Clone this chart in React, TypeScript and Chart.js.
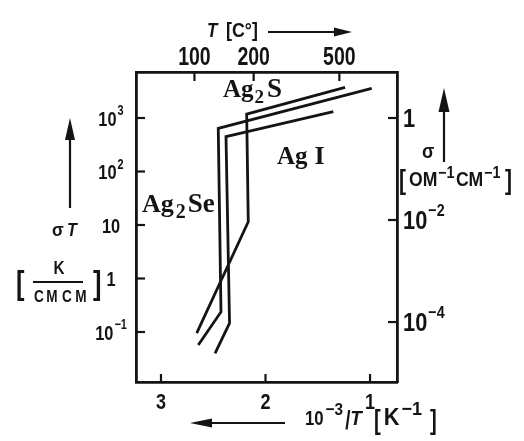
import React, { useEffect, useRef } from "react";
import { Chart, registerables } from "chart.js";

Chart.register(...registerables);

// Tick values on each axis
const TOP_TEMPS_C = [100, 200, 500];
const BOTTOM_TICKS = [3, 2, 1];
const SIGMA_T_TICKS = [0.1, 1, 10, 100, 1000];
const SIGMA_T_LABELS = ["10⁻¹", "1", "10", "10²", "10³"];
const SIGMA_TICKS = [1e-4, 1e-2, 1];
const SIGMA_LABELS = ["10⁻⁴", "10⁻²", "1"];

// Conductivity curves: x = 10^3/T [1/K], y = σT [K/(Ohm·cm·cm)]
const AG2S_INV_T = [1.239, 2.18, 2.165, 2.658];
const AG2S_SIGMA_T = [3750, 1180, 11.5, 0.095];
const AG2SE_INV_T = [0.984, 2.452, 2.426, 2.643];
const AG2SE_SIGMA_T = [3590, 641, 0.237, 0.057];
const AGI_INV_T = [1.351, 2.378, 2.344, 2.483];
const AGI_SIGMA_T = [1312, 447, 0.146, 0.04];

const INK = "#141414";
const SANS = '"Liberation Sans", Arial, sans-serif';
const SERIF = '"Liberation Serif", "Times New Roman", serif';

const toPoints = (xs: number[], ys: number[]) => xs.map((x, i) => ({ x, y: ys[i] }));

const sansFont = (size: number, italic = false) => `${italic ? "italic " : ""}bold ${size}px ${SANS}`;

// Draw text squeezed horizontally by sx (condensed drafting lettering)
function drawText(
  ctx: CanvasRenderingContext2D,
  text: string,
  x: number,
  y: number,
  font: string,
  sx = 1,
  align: "left" | "center" | "right" = "left",
) {
  ctx.save();
  ctx.font = font;
  const w = ctx.measureText(text).width * sx;
  const left = align === "center" ? x - w / 2 : align === "right" ? x - w : x;
  ctx.translate(left, y);
  ctx.scale(sx, 1);
  ctx.textAlign = "left";
  ctx.textBaseline = "alphabetic";
  ctx.fillText(text, 0, 0);
  ctx.restore();
  return w;
}

const SUP: Record<string, string> = { "⁻": "−", "¹": "1", "²": "2", "³": "3", "⁴": "4" };

// Power-of-ten tick label: base "10" with a raised exponent
function drawPower(
  ctx: CanvasRenderingContext2D,
  label: string,
  x: number,
  yMid: number,
  size: number,
  sx: number,
  align: "left" | "center",
) {
  const m = label.match(/^(10)([⁻¹²³⁴]+)$/);
  const base = m ? m[1] : label;
  const exp = m ? [...m[2]].map((c) => SUP[c]).join("") : "";
  const expSize = Math.round(size * 0.66);
  ctx.save();
  ctx.font = sansFont(size);
  const wb = ctx.measureText(base).width * sx;
  ctx.font = sansFont(expSize);
  const we = exp ? ctx.measureText(exp).width * sx + 1 : 0;
  ctx.restore();
  const left = align === "center" ? x - (wb + we) / 2 : x;
  const baseline = yMid + size * 0.36;
  drawText(ctx, base, left, baseline, sansFont(size), sx);
  if (exp) drawText(ctx, exp, left + wb + 1, baseline - size * 0.5, sansFont(expSize), sx);
}

function drawArrow(ctx: CanvasRenderingContext2D, x1: number, y1: number, x2: number, y2: number, headLen: number, halfW: number) {
  const ang = Math.atan2(y2 - y1, x2 - x1);
  const bx = x2 - Math.cos(ang) * headLen;
  const by = y2 - Math.sin(ang) * headLen;
  ctx.beginPath();
  ctx.moveTo(x1, y1);
  ctx.lineTo(bx, by);
  ctx.stroke();
  ctx.beginPath();
  ctx.moveTo(x2, y2);
  ctx.lineTo(bx - Math.sin(ang) * halfW, by + Math.cos(ang) * halfW);
  ctx.lineTo(bx + Math.sin(ang) * halfW, by - Math.cos(ang) * halfW);
  ctx.closePath();
  ctx.fill();
}

// White page behind the chart
const background = {
  id: "background",
  beforeDraw(chart: Chart) {
    const ctx = chart.ctx;
    ctx.save();
    ctx.fillStyle = "#ffffff";
    ctx.fillRect(0, 0, chart.width, chart.height);
    ctx.restore();
  },
};

// Tick marks pointing into the frame, and their labels
const axisMarks = {
  id: "axisMarks",
  afterDraw(chart: Chart) {
    const { ctx, chartArea: a } = chart;
    const s: any = chart.scales;
    ctx.save();
    ctx.strokeStyle = INK;
    ctx.fillStyle = INK;
    ctx.lineWidth = 2.2;

    s.y.ticks.forEach((t: any, i: number) => {
      const p = s.y.getPixelForTick(i);
      ctx.beginPath(); ctx.moveTo(a.left, p); ctx.lineTo(a.left + 9, p); ctx.stroke();
      drawPower(ctx, t.label, 111, p, 21, 0.78, "center");
    });
    s.y2.ticks.forEach((t: any, i: number) => {
      const p = s.y2.getPixelForTick(i);
      ctx.beginPath(); ctx.moveTo(a.right, p); ctx.lineTo(a.right - 9, p); ctx.stroke();
      drawPower(ctx, t.label, 403, p, 26, 0.84, "left");
    });
    s.x.ticks.forEach((t: any, i: number) => {
      const p = s.x.getPixelForTick(i);
      ctx.beginPath(); ctx.moveTo(p, a.bottom); ctx.lineTo(p, a.bottom - 8); ctx.stroke();
      drawText(ctx, t.label, p, 409, sansFont(22), 0.82, "center");
    });
    s.x2.ticks.forEach((t: any, i: number) => {
      const p = s.x2.getPixelForTick(i);
      ctx.beginPath(); ctx.moveTo(p, a.top); ctx.lineTo(p, a.top + 9); ctx.stroke();
      drawText(ctx, t.label, p, 65, sansFont(25), 0.78, "center");
    });
    ctx.restore();
  },
};

// Axis titles, direction arrows and compound names
const annotations = {
  id: "annotations",
  afterDraw(chart: Chart) {
    const ctx = chart.ctx;
    ctx.save();
    ctx.fillStyle = INK;
    ctx.strokeStyle = INK;
    ctx.lineWidth = 2.2;

    // top: T [C°] →
    drawText(ctx, "T", 207, 37, sansFont(20, true), 0.85);
    drawText(ctx, "[C°]", 226, 37, sansFont(21), 0.85);
    drawArrow(ctx, 268, 32, 352, 32, 18, 4.5);

    // bottom: ← 10⁻³/T [K⁻¹]
    drawArrow(ctx, 285, 423, 190, 423, 22, 4.5);
    let bx = 305;
    bx += drawText(ctx, "10", bx, 425, sansFont(21), 0.8) + 2;
    bx += drawText(ctx, "−3", bx, 415, sansFont(17), 0.9) + 2;
    bx += drawText(ctx, "/", bx, 429, sansFont(25), 0.75);
    bx += drawText(ctx, "T", bx, 425, sansFont(21, true), 0.9) + 12;
    bx += drawText(ctx, "[", bx, 429, sansFont(27), 0.75) + 3;
    bx += drawText(ctx, "K", bx, 425, sansFont(23), 0.95) + 2;
    bx += drawText(ctx, "−1", bx, 415, sansFont(19), 0.95) + 8;
    drawText(ctx, "]", bx, 429, sansFont(27), 0.75);

    // left: σT [K / см см]
    drawArrow(ctx, 70, 208, 70, 118, 22, 5);
    drawText(ctx, "σ", 52, 236, sansFont(19), 0.9);
    drawText(ctx, "T", 67, 236, sansFont(19, true), 0.85);
    drawText(ctx, "K", 59, 274, sansFont(18), 0.85, "center");
    const cm = ["С", "М", "С", "М"];
    const cmX = [39, 52, 67, 81];
    cm.forEach((c, i) => drawText(ctx, c, cmX[i], 302, sansFont(16), 0.85, "center"));
    ctx.beginPath();
    ctx.moveTo(33, 282);
    ctx.lineTo(83, 282);
    ctx.stroke();
    drawText(ctx, "[", 16, 294, sansFont(34), 0.75);
    drawText(ctx, "]", 93, 294, sansFont(34), 0.75);

    // right: σ [ом⁻¹см⁻¹]
    drawArrow(ctx, 444, 162, 444, 88, 24, 5.5);
    drawText(ctx, "σ", 422, 158, sansFont(20), 0.9);
    drawText(ctx, "[", 399, 189, sansFont(28), 0.75);
    drawText(ctx, "ОМ", 409, 186, sansFont(20), 0.88);
    drawText(ctx, "−1", 438, 178, sansFont(16), 0.9);
    drawText(ctx, "СМ", 456, 186, sansFont(20), 0.88);
    drawText(ctx, "−1", 484, 178, sansFont(16), 0.9);
    drawText(ctx, "]", 505, 189, sansFont(28), 0.75);

    // compound names
    const serif = (size: number) => `bold ${size}px ${SERIF}`;
    let x = 223;
    x += drawText(ctx, "Ag", x, 97, serif(25)) + 1;
    x += drawText(ctx, "2", x, 103, serif(19)) + 3;
    drawText(ctx, "S", x, 97, serif(27));

    x = 277;
    x += drawText(ctx, "Ag", x, 164, serif(25)) + 7;
    drawText(ctx, "I", x, 164, serif(26));

    x = 142;
    x += drawText(ctx, "Ag", x, 212, serif(26)) + 2;
    x += drawText(ctx, "2", x, 218, serif(20)) + 2;
    drawText(ctx, "Se", x, 212, serif(27));

    ctx.restore();
  },
};

export default function App() {
  const canvasRef = useRef<HTMLCanvasElement | null>(null);

  useEffect(() => {
    const canvas = canvasRef.current;
    if (!canvas) return;

    const line = (data: { x: number; y: number }[]) => ({
      data,
      showLine: true,
      borderColor: INK,
      borderWidth: 2.8,
      borderJoinStyle: "miter" as const,
      pointRadius: 0,
      fill: false,
      tension: 0,
      xAxisID: "x",
      yAxisID: "y",
    });

    const frame = { display: true, width: 2.8, color: INK };
    const hiddenGrid = { display: false, drawTicks: false };

    const chart = new Chart(canvas, {
      type: "scatter",
      data: {
        datasets: [
          { label: "Ag₂S", ...line(toPoints(AG2S_INV_T, AG2S_SIGMA_T)) },
          { label: "Ag₂Se", ...line(toPoints(AG2SE_INV_T, AG2SE_SIGMA_T)) },
          { label: "AgI", ...line(toPoints(AGI_INV_T, AGI_SIGMA_T)) },
        ],
      },
      options: {
        responsive: false,
        animation: false,
        events: [],
        layout: { padding: 0 },
        plugins: { legend: { display: false }, tooltip: { enabled: false } },
        scales: {
          x: {
            type: "linear",
            position: "bottom",
            reverse: true,
            min: 0.742,
            max: 3.239,
            grid: hiddenGrid,
            border: frame,
            afterBuildTicks: (s: any) => {
              s.ticks = BOTTOM_TICKS.map((v) => ({ value: v }));
            },
            afterFit: (s: any) => {
              s.height = 59;
            },
            ticks: { display: false, autoSkip: false, callback: (v: any) => String(v) },
          },
          x2: {
            type: "linear",
            position: "top",
            reverse: true,
            min: 0.742,
            max: 3.239,
            grid: hiddenGrid,
            border: frame,
            afterBuildTicks: (s: any) => {
              s.ticks = TOP_TEMPS_C.map((t) => ({ value: 1000 / (t + 273.15) }));
            },
            afterFit: (s: any) => {
              s.height = 72;
            },
            ticks: { display: false, autoSkip: false, callback: (_v: any, i: number) => String(TOP_TEMPS_C[i]) },
          },
          y: {
            type: "logarithmic",
            position: "left",
            min: 0.01162,
            max: 7244,
            grid: hiddenGrid,
            border: frame,
            afterBuildTicks: (s: any) => {
              s.ticks = SIGMA_T_TICKS.map((v) => ({ value: v }));
            },
            afterFit: (s: any) => {
              s.width = 136;
            },
            ticks: { display: false, autoSkip: false, callback: (_v: any, i: number) => SIGMA_T_LABELS[i] },
          },
          y2: {
            type: "logarithmic",
            position: "right",
            min: 6.67e-6,
            max: 7.98,
            grid: hiddenGrid,
            border: frame,
            afterBuildTicks: (s: any) => {
              s.ticks = SIGMA_TICKS.map((v) => ({ value: v }));
            },
            afterFit: (s: any) => {
              s.width = 127;
            },
            ticks: { display: false, autoSkip: false, callback: (_v: any, i: number) => SIGMA_LABELS[i] },
          },
        },
      },
      plugins: [background, axisMarks, annotations],
    } as any);

    return () => chart.destroy();
  }, []);

  return (
    <div style={{ position: "absolute", left: 0, top: 0, width: 524, height: 441 }}>
      <canvas ref={canvasRef} width={524} height={441} style={{ display: "block", width: 524, height: 441 }} />
    </div>
  );
}
